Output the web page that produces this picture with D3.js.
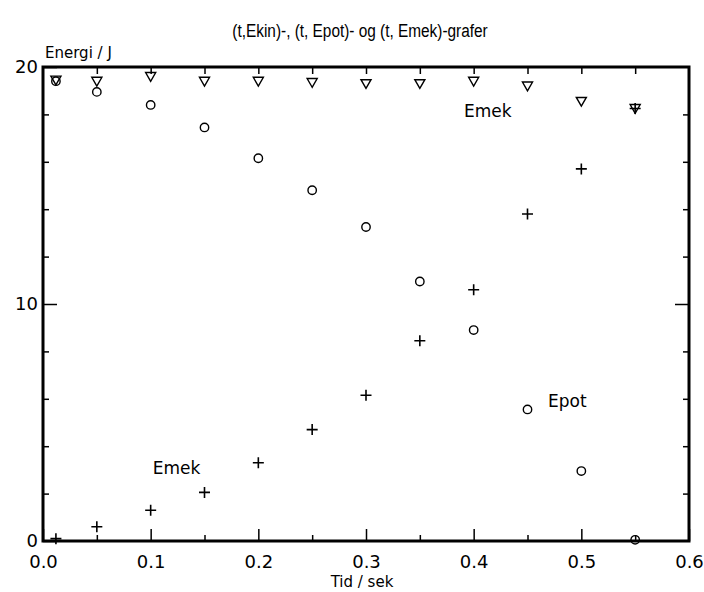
<!DOCTYPE html>
<html>
<head>
<meta charset="utf-8">
<script src="https://cdn.jsdelivr.net/npm/d3@7"></script>
<style>
  body { margin: 0; background: #fff; }
  text { font-family: "DejaVu Sans", Verdana, sans-serif; fill: #000; }
</style>
</head>
<body>
<div id="chart"></div>
<script>
// time points (s)
const tid = [0.012, 0.05, 0.1, 0.15, 0.2, 0.25, 0.3, 0.35, 0.4, 0.45, 0.5, 0.55];
// energies (J)
const ekin = [0.1, 0.6, 1.3, 2.05, 3.3, 4.7, 6.15, 8.45, 10.6, 13.8, 15.7, 18.25];
const epot = [19.4, 18.95, 18.4, 17.45, 16.15, 14.8, 13.25, 10.95, 8.9, 5.55, 2.95, 0.05];
const emek = [19.45, 19.4, 19.6, 19.4, 19.4, 19.35, 19.3, 19.3, 19.4, 19.2, 18.55, 18.25];

const xTicks = [0.0, 0.1, 0.2, 0.3, 0.4, 0.5, 0.6];
const yTicks = [0, 10, 20];

const width = 704, height = 592;
const margin = {top: 67, right: 15, bottom: 51, left: 43};

const svg = d3.select("#chart").append("svg")
  .attr("width", width)
  .attr("height", height);

const x = d3.scaleLinear().domain([0, 0.6]).range([margin.left, width - margin.right]);
const y = d3.scaleLinear().domain([0, 20]).range([height - margin.bottom, margin.top]);

// title (narrow look)
svg.append("text")
  .attr("transform", "translate(360,37) scale(0.81,1)")
  .attr("text-anchor", "middle")
  .style("font-family", "'Liberation Sans', Arial, sans-serif")
  .style("font-size", "19px")
  .text("(t,Ekin)-, (t, Epot)- og (t, Emek)-grafer");

// axis titles
svg.append("text")
  .attr("x", 45).attr("y", 58)
  .style("font-size", "15px")
  .text("Energi / J");

svg.append("text")
  .attr("x", x(0.3) - 4).attr("y", 587)
  .attr("text-anchor", "middle")
  .style("font-size", "15px")
  .text("Tid / sek");

// axes (ticks inward)
const minorX = d3.range(0.05, 0.6, 0.1);
const minorY = d3.range(2, 20, 2).filter(d => d !== 10);

const bottomAxis = d3.axisBottom(x).tickValues(xTicks).tickFormat(d3.format(".1f")).tickSize(-12).tickPadding(14);
const gb = svg.append("g").attr("transform", `translate(0,${y(0)})`).call(bottomAxis);
svg.append("g").attr("transform", `translate(0,${y(0)})`)
  .call(d3.axisBottom(x).tickValues(minorX).tickSize(-6).tickFormat(""));

const topAxis = d3.axisTop(x).tickValues(d3.range(0.05, 0.6, 0.05)).tickSize(-7).tickFormat("");
svg.append("g").attr("transform", `translate(0,${y(20)})`).call(topAxis);

const leftAxis = d3.axisLeft(y).tickValues(yTicks).tickSize(-14).tickPadding(5);
svg.append("g").attr("transform", `translate(${x(0)},0)`).call(leftAxis);
svg.append("g").attr("transform", `translate(${x(0)},0)`)
  .call(d3.axisLeft(y).tickValues(minorY).tickSize(-6).tickFormat(""));

svg.append("g").attr("transform", `translate(${x(0.6)},0)`)
  .call(d3.axisRight(y).tickValues([10]).tickSize(-14).tickFormat(""));
svg.append("g").attr("transform", `translate(${x(0.6)},0)`)
  .call(d3.axisRight(y).tickValues(minorY).tickSize(-6).tickFormat(""));

svg.selectAll(".domain").remove();
svg.selectAll(".tick line").attr("stroke", "#000").attr("stroke-width", 1.5);
svg.selectAll(".tick text").style("font-size", "18px").attr("fill", "#000")
  .style("font-family", "'DejaVu Sans', Verdana, sans-serif");
gb.selectAll(".tick text").attr("dy", "0.71em");

// frame
svg.append("rect")
  .attr("x", x(0)).attr("y", y(20))
  .attr("width", x(0.6) - x(0)).attr("height", y(0) - y(20))
  .attr("fill", "none").attr("stroke", "#000").attr("stroke-width", 3);

// markers
const tri = d3.symbol().type(d3.symbolTriangle).size(44);

svg.append("g").selectAll("path")
  .data(tid.map((t, i) => [t, emek[i]]))
  .join("path")
  .attr("d", tri)
  .attr("transform", d => `translate(${x(d[0])},${y(d[1]) - 1}) rotate(180)`)
  .attr("fill", "none").attr("stroke", "#000").attr("stroke-width", 1.4);

svg.append("g").selectAll("circle")
  .data(tid.map((t, i) => [t, epot[i]]))
  .join("circle")
  .attr("cx", d => x(d[0])).attr("cy", d => y(d[1]))
  .attr("r", 4.2)
  .attr("fill", "none").attr("stroke", "#000").attr("stroke-width", 1.4);

svg.append("g").selectAll("path")
  .data(tid.map((t, i) => [t, ekin[i]]))
  .join("path")
  .attr("d", d => `M${x(d[0]) - 5.5},${y(d[1])}h11M${x(d[0])},${y(d[1]) - 5.5}v11`)
  .attr("stroke", "#000").attr("stroke-width", 1.6);

// labels
const labels = [
  {text: "Emek", t: 0.391, v: 17.9},
  {text: "Epot", t: 0.469, v: 5.65},
  {text: "Emek", t: 0.102, v: 2.83}
];
svg.append("g").selectAll("text")
  .data(labels)
  .join("text")
  .attr("x", d => x(d.t)).attr("y", d => y(d.v))
  .style("font-size", "17px")
  .text(d => d.text);
</script>
</body>
</html>
